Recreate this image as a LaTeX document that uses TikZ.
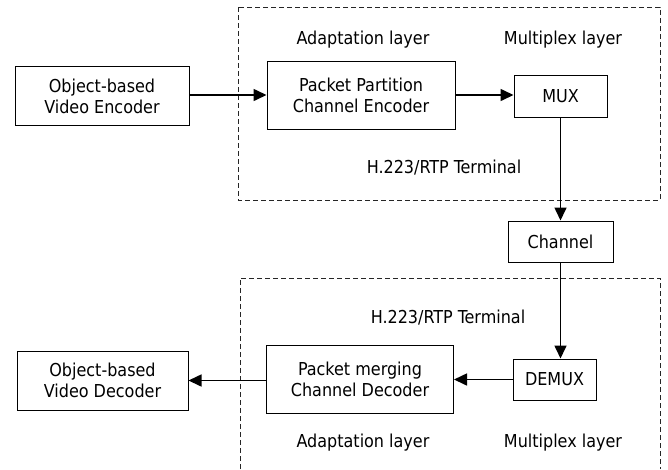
\documentclass[tikz,border=0pt]{standalone}
\usepackage{fontspec}
\setmainfont{DejaVu Sans Condensed}
\usetikzlibrary{arrows.meta}
\begin{document}
\begin{tikzpicture}[x=1pt,y=-1pt,
  font=\fontsize{17.8}{21}\selectfont,
  box/.style={draw, line width=1pt, inner sep=0pt, align=center},
  arr/.style={-{Triangle[length=13pt,width=12pt]}, line width=1.6pt},
  region/.style={draw=black!85, line width=1pt, dash pattern=on 5pt off 3pt},
  lbl/.style={inner sep=0pt, anchor=center}]
\useasboundingbox (0,0) rectangle (668,469);
% dashed regions
\draw[region] (238,7) rectangle (660,200);
\draw[region] (240,469) -- (240,278) -- (660,278) -- (660,469);
% boxes
\node[box, minimum width=174pt, minimum height=59pt] (enc) at (102,96) {Object-based\\Video Encoder};
\node[box, minimum width=188pt, minimum height=68pt] (pp) at (361,95) {Packet Partition\\Channel Encoder};
\node[box, minimum width=93pt, minimum height=42pt] (mux) at (560.5,96) {MUX};
\node[box, minimum width=105pt, minimum height=41pt] (chan) at (560.5,241.5) {Channel};
\node[box, minimum width=83pt, minimum height=41pt] (demux) at (554.5,379.5) {DEMUX};
\node[box, minimum width=187pt, minimum height=68pt] (pm) at (360,379) {Packet merging\\Channel Decoder};
\node[box, minimum width=171pt, minimum height=59pt] (dec) at (102.5,380.5) {Object-based\\Video Decoder};
% labels
\node[lbl] (al1) at (363,40) {Adaptation layer};
\node[lbl] (ml1) at (563,40) {Multiplex layer};
\node[lbl] (ht1) at (444,168) {H.223/RTP Terminal};
\node[lbl] (ht2) at (448,318) {H.223/RTP Terminal};
\node[lbl] (al2) at (363,443) {Adaptation layer};
\node[lbl] (ml2) at (563,443) {Multiplex layer};
% connectors
\draw[arr] (enc.east |- pp.west) -- (pp.west);
\draw[arr] (pp.east) -- (pp.east -| mux.west);
\draw[arr] (mux.south) -- (chan.north);
\draw[arr] (chan.south) -- (chan.south |- demux.north);
\draw[arr] (demux.west) -- (demux.west -| pm.east);
\draw[arr] (pm.west |- dec.east) -- (dec.east);
\end{tikzpicture}
\end{document}
